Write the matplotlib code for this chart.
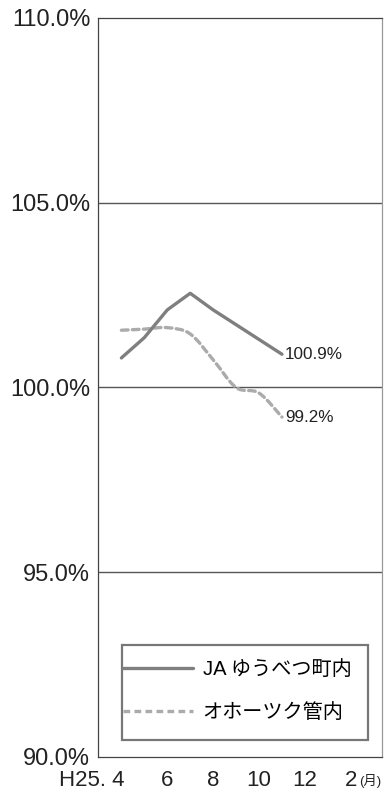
import matplotlib
matplotlib.use("Agg")
import matplotlib.pyplot as plt
import matplotlib.transforms as mtransforms
from matplotlib.path import Path
from matplotlib.patches import PathPatch, Rectangle
from matplotlib.lines import Line2D

plt.rcParams['font.family'] = ['Liberation Sans', 'Noto Sans CJK JP', 'DejaVu Sans']

# monthly index: 0 = H25.4 ... 10 = H26.2
months = [0, 1, 2, 3, 4, 5, 6, 7]
ja_yubetsu = [100.8, 101.35, 102.1, 102.55, 102.1, 101.7, 101.3, 100.9]
okhotsk = [101.55, 101.58, 101.62, 101.45, 100.75, 100.0, 99.85, 99.2]

tick_pos = [0, 2, 4, 6, 8, 10]
tick_labels = ["H25. 4", "6", "8", "10", "12", "2"]
y_ticks = [90, 95, 100, 105, 110]


def smooth_path(xs, ys):
    # cubic bezier through every point (catmull-rom style control points)
    pts = list(zip(xs, ys))
    n = len(pts)
    verts = [pts[0]]
    codes = [Path.MOVETO]
    for i in range(n - 1):
        p0 = pts[max(i - 1, 0)]
        p1 = pts[i]
        p2 = pts[i + 1]
        p3 = pts[min(i + 2, n - 1)]
        c1 = (p1[0] + (p2[0] - p0[0]) / 6, p1[1] + (p2[1] - p0[1]) / 6)
        c2 = (p2[0] - (p3[0] - p1[0]) / 6, p2[1] - (p3[1] - p1[1]) / 6)
        verts += [c1, c2, p2]
        codes += [Path.CURVE4] * 3
    return Path(verts, codes)


fig = plt.figure(figsize=(3.85, 7.94), dpi=100)
ax = fig.add_axes([98 / 385, 1 - 757 / 794, 284 / 385, 739 / 794])

ax.set_xlim(-1.02, 11.36)
ax.set_ylim(90, 110)

for y in [95, 100, 105]:
    ax.axhline(y, color="#555555", lw=1.0, zorder=1)

solid_color = "#7f7f7f"
dash_color = "#ababab"
dash_style = (0, (2.0, 1.3))

ax.plot(months, ja_yubetsu, color=solid_color, lw=2.4,
        solid_capstyle="round", solid_joinstyle="round", zorder=3)
okh = PathPatch(smooth_path(months, okhotsk), fill=False, edgecolor=dash_color,
                lw=2.4, linestyle=dash_style, capstyle="round", zorder=2)
ax.add_patch(okh)

ax.annotate(f"{ja_yubetsu[-1]:.1f}%", (months[-1], ja_yubetsu[-1]),
            xytext=(2, 0), textcoords="offset points",
            ha="left", va="center", fontsize=12.3, color="#222222")
ax.annotate(f"{okhotsk[-1]:.1f}%", (months[-1], okhotsk[-1]),
            xytext=(2, 0), textcoords="offset points",
            ha="left", va="center", fontsize=12.3, color="#222222")

ax.set_yticks(y_ticks)
ax.set_yticklabels([f"{v:.1f}%" for v in y_ticks], fontsize=17, color="#222222")
ax.set_xticks(tick_pos)
ax.set_xticklabels(tick_labels, fontsize=16, color="#222222")
ax.tick_params(axis="both", length=0)
ax.tick_params(axis="y", pad=5.5)
ax.tick_params(axis="x", pad=9)

# keep the "4" of H25. 4 under its tick
first = ax.get_xticklabels()[0]
first.set_ha("right")
first.set_transform(first.get_transform() +
                    mtransforms.ScaledTranslation(2.5 / 72, 0, fig.dpi_scale_trans))

ax.annotate("(月)", (10, 0), xycoords=("data", "axes fraction"),
            xytext=(6, -17), textcoords="offset points",
            ha="left", va="center", fontsize=9.5, color="#222222")

for side, sp in ax.spines.items():
    sp.set_linewidth(0.9)
    sp.set_color("#444444")
ax.spines["right"].set_color("#999999")

# legend box
ax.add_patch(Rectangle((0.085, 0.023), 0.866, 0.129, transform=ax.transAxes,
                       facecolor="white", edgecolor="#777777", lw=1.6, zorder=4))
handles = [
    Line2D([], [], color=solid_color, lw=2.4, solid_capstyle="round",
           label="JA ゆうべつ町内"),
    Line2D([], [], color=dash_color, lw=2.4, linestyle=dash_style,
           label="オホーツク管内"),
]
leg = ax.legend(handles=handles, loc="upper left",
                bbox_to_anchor=(0.088, 0.1312),
                fontsize=14.5, handlelength=3.5, handletextpad=0.45,
                labelspacing=1.2, borderpad=0, borderaxespad=0,
                frameon=False)
leg.set_zorder(5)

fig.savefig("out.png", dpi=100)
